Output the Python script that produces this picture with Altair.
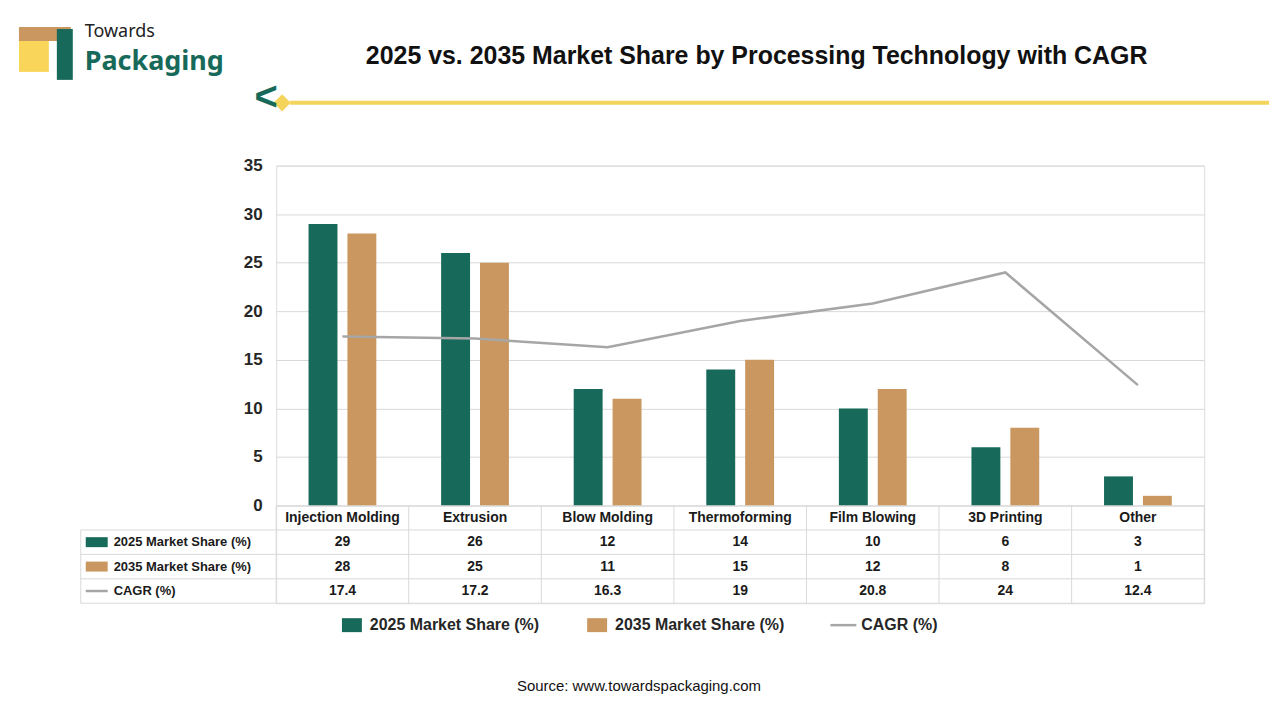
import altair as alt
import pandas as pd

categories = ["Injection Molding", "Extrusion", "Blow Molding", "Thermoforming",
              "Film Blowing", "3D Printing", "Other"]
share_2025 = [29, 26, 12, 14, 10, 6, 3]
share_2035 = [28, 25, 11, 15, 12, 8, 1]
cagr = [17.4, 17.2, 16.3, 19, 20.8, 24, 12.4]
series = ["2025 Market Share (%)", "2035 Market Share (%)", "CAGR (%)"]

GREEN = "#17695a"
TAN = "#c9975f"
GRAY = "#a6a6a6"
GRID = "#d9d9d9"
FONT = "Liberation Sans"
W, H = 931, 341
STEP = W / len(categories)
RH = 24.5

df = pd.DataFrame({"cat": categories, "s25": share_2025, "s35": share_2035, "cagr": cagr})
xs = alt.X("cat:N", sort=categories, axis=None, scale=alt.Scale(paddingInner=0, paddingOuter=0))
ys = alt.Y("s25:Q", scale=alt.Scale(domain=[0, 35]),
           axis=alt.Axis(values=list(range(0, 36, 5)), title=None, domain=False, ticks=False,
                         labelFontSize=17, labelFontWeight="bold", labelColor="#262626",
                         labelPadding=14, gridColor=GRID, labelFont=FONT))

base = alt.Chart(df)
bar25 = base.mark_bar(width=29, xOffset=-19.5, color=GREEN).encode(x=xs, y=ys)
bar35 = base.mark_bar(width=29, xOffset=19.5, color=TAN).encode(x=xs, y=alt.Y("s35:Q"))
line = base.mark_line(color=GRAY, strokeWidth=2.5).encode(x=xs, y=alt.Y("cagr:Q"))

dc = alt.Chart(pd.DataFrame({"k": [0]}))
title = dc.mark_text(text="2025 vs. 2035 Market Share by Processing Technology with CAGR",
                     fontSize=25, fontWeight="bold", font=FONT, color="#111").encode(
    x=alt.value(482), y=alt.value(-110))
yline = dc.mark_rule(color="#f5d45c", strokeWidth=4).encode(
    x=alt.value(14), x2=alt.value(996), y=alt.value(-63))
dia1 = dc.mark_point(shape="diamond", filled=True, color="#f5d45c", size=300, opacity=1).encode(
    x=alt.value(6), y=alt.value(-63))
chev1 = dc.mark_text(text="<", fontSize=40, fontWeight="bold", color=GREEN).encode(
    x=alt.value(-10), y=alt.value(-68))
box_tan = dc.mark_rect(color=TAN).encode(x=alt.value(-258), x2=alt.value(-206),
                                          y=alt.value(-139), y2=alt.value(-125))
box_yel = dc.mark_rect(color="#f9d65a").encode(x=alt.value(-258), x2=alt.value(-228),
                                                y=alt.value(-125), y2=alt.value(-94))
box_grn = dc.mark_rect(color=GREEN).encode(x=alt.value(-220), x2=alt.value(-204),
                                            y=alt.value(-137), y2=alt.value(-86))
logo1 = dc.mark_text(text="Towards", align="left", fontSize=18, font="Noto Sans",
                     color="#222").encode(x=alt.value(-192), y=alt.value(-134))
logo2 = dc.mark_text(text="Packaging", align="left", fontSize=27, fontWeight="bold",
                     font="Noto Sans", color=GREEN).encode(x=alt.value(-192), y=alt.value(-104))

top = alt.layer(bar25, bar35, line, yline, dia1, chev1, title, box_tan, box_yel, box_grn,
                logo1, logo2).properties(width=W, height=H)

# table
rows = ["head"] + series
cells = []
for i, c in enumerate(categories):
    cells.append({"cat": c, "row": "head", "txt": c})
    cells.append({"cat": c, "row": series[0], "txt": str(share_2025[i])})
    cells.append({"cat": c, "row": series[1], "txt": str(share_2035[i])})
    cells.append({"cat": c, "row": series[2], "txt": f"{cagr[i]:g}"})
tdf = pd.DataFrame(cells)
tx = alt.X("cat:N", sort=categories, axis=None, scale=alt.Scale(paddingInner=0, paddingOuter=0))
ty = alt.Y("row:N", sort=rows, axis=None, scale=alt.Scale(paddingInner=0, paddingOuter=0))
tb = alt.Chart(tdf)
ttext = tb.mark_text(fontSize=14, fontWeight="bold", font=FONT, color="#1a1a1a").encode(
    x=tx, y=ty, text="txt:N")
vrules = alt.Chart(df).mark_rule(color=GRID, xOffset=-STEP / 2).encode(
    x=tx, y=alt.value(0), y2=alt.value(4 * RH))
rl = alt.Chart(pd.DataFrame({"row": series, "col": [GREEN, TAN, GRAY]}))
hrules = rl.mark_rule(color=GRID, yOffset=-RH / 2).encode(
    y=ty, x=alt.value(-196), x2=alt.value(W))
r_bot = dc.mark_rule(color=GRID).encode(x=alt.value(-196), x2=alt.value(W), y=alt.value(4 * RH))
r_l = dc.mark_rule(color=GRID).encode(x=alt.value(-196), y=alt.value(RH), y2=alt.value(4 * RH))
r_r = dc.mark_rule(color=GRID).encode(x=alt.value(W), y=alt.value(0), y2=alt.value(4 * RH))
lab_txt = rl.mark_text(align="left", fontSize=13, fontWeight="bold", font=FONT, color="#1a1a1a").encode(
    y=ty, x=alt.value(-163), text="row:N")
lab_sq = rl.transform_filter(alt.datum.row != series[2]).mark_rect(width=22, height=10).encode(
    y=ty, x=alt.value(-180), color=alt.Color("col:N", scale=None))
lab_ln = rl.transform_filter(alt.datum.row == series[2]).mark_rect(width=22, height=2.5, color=GRAY).encode(
    y=ty, x=alt.value(-180))

leg = pd.DataFrame({"name": series, "col": [GREEN, TAN, GRAY],
                    "sx": [76, 322, 569], "tx": [94, 340, 587]})
lg = alt.Chart(leg)
leg_sq = lg.transform_filter(alt.datum.name != series[2]).mark_rect(width=20, height=14).encode(
    x=alt.X("sx:Q", scale=None), y=alt.value(120), color=alt.Color("col:N", scale=None))
leg_ln = lg.transform_filter(alt.datum.name == series[2]).mark_rect(width=26, height=2.5, color=GRAY).encode(
    x=alt.X("sx:Q", scale=None), y=alt.value(120))
leg_tx = lg.mark_text(align="left", fontSize=16, fontWeight="bold", font=FONT, color="#262626").encode(
    x=alt.X("tx:Q", scale=None), y=alt.value(120), text="name:N")
src = dc.mark_text(text="Source: www.towardspackaging.com", fontSize=15, font=FONT, color="#111").encode(
    x=alt.value(364), y=alt.value(181))

bottom = alt.layer(ttext, vrules, hrules, r_bot, r_l, r_r, lab_txt, lab_sq, lab_ln,
                   leg_sq, leg_ln, leg_tx, src).properties(width=W, height=4 * RH)

chart = alt.vconcat(top, bottom, spacing=0, bounds="flush").configure_view(stroke=None).configure(
    padding={"left": 10, "top": 13, "right": 0, "bottom": 10}, background="white")
chart.save("out.html", embed_options={"renderer": "svg", "actions": False})
